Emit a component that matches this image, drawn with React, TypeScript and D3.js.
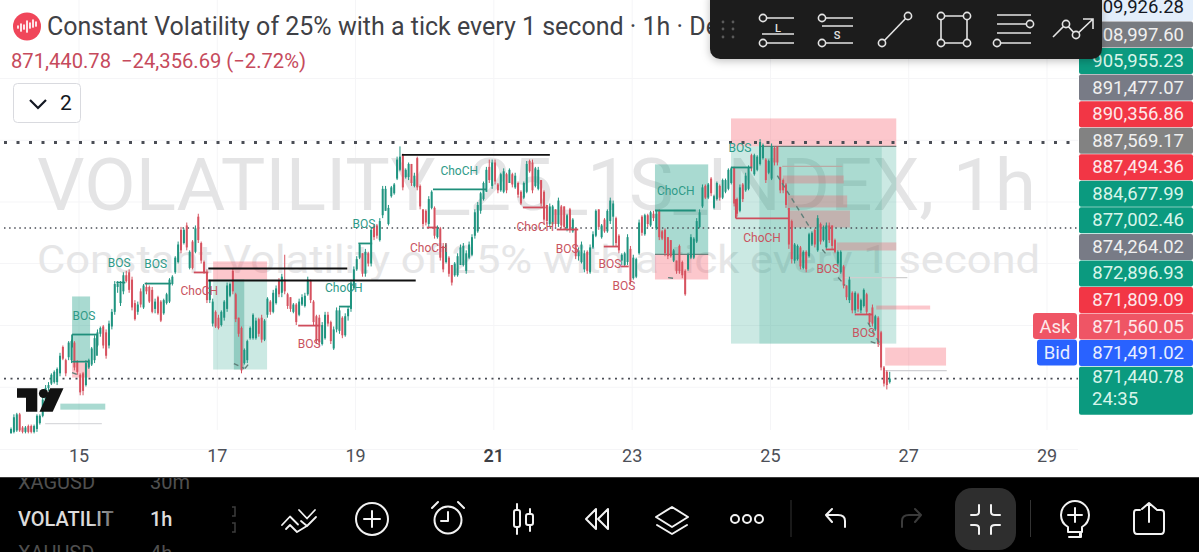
import React from "react";
import * as d3 from "d3";

// ---------- candle data: each row is [open, high, low, close] in thousands of price points ----------
const barsDay14: number[][] = [
  [867.7,868.1,867.7,868.0],[867.8,869.0,867.7,868.8],[867.9,869.1,867.8,869.0],[869.0,869.1,867.8,867.9],[868.1,868.2,867.7,867.8],
  [867.8,868.2,867.7,868.1],[868.2,868.3,867.7,867.8],[868.2,868.3,867.7,867.8],[867.8,868.3,867.7,868.2],[868.0,869.0,867.8,868.9],
  [868.4,869.0,868.3,868.9],[868.9,870.2,868.8,870.0],[870.0,871.0,869.9,870.8],[870.8,871.2,870.6,871.0],[871.1,871.8,871.0,871.7],
  [871.2,872.0,871.1,871.9],[871.2,872.2,871.0,872.1],[871.8,873.2,871.6,873.0],[873.6,873.7,872.7,872.8],[872.7,872.8,871.6,871.8],
  [872.9,874.0,872.7,873.9],[872.7,874.1,872.5,874.0],[873.9,874.0,872.0,872.2],[872.6,872.7,871.7,871.9],
];
const barsDay15: number[][] = [
  [871.7,871.8,870.3,870.5],[871.8,871.9,870.3,870.6],[871.0,872.7,870.9,872.5],[872.2,872.8,872.1,872.7],[872.4,873.6,872.3,873.5],
  [872.7,874.4,872.5,874.2],[873.7,874.8,873.6,874.6],[874.5,875.0,874.3,874.9],[875.0,875.1,873.5,873.7],[874.6,874.8,872.8,873.0],
  [873.7,875.4,873.5,875.2],[875.0,876.2,874.8,876.0],[876.0,878.1,875.8,877.9],[877.7,878.1,877.3,877.9],[876.6,878.1,876.4,877.9],
  [877.4,878.7,877.2,878.5],[878.5,878.8,878.0,878.1],[878.7,878.9,877.3,877.5],[878.2,878.4,876.1,876.3],[876.6,876.8,875.4,875.5],
  [876.0,876.7,875.8,876.5],[877.4,877.6,876.3,876.5],[876.3,877.9,876.2,877.8],[877.7,878.0,877.2,877.4],
];
const barsDay16: number[][] = [
  [877.7,877.8,876.6,876.7],[877.5,877.7,875.9,876.0],[876.2,876.9,875.9,876.7],[877.0,877.1,875.8,875.9],[876.7,876.8,875.3,875.4],
  [875.9,876.9,875.8,876.8],[876.6,877.3,876.5,877.2],[876.7,878.3,876.6,878.2],[877.9,878.5,877.8,878.4],[878.7,879.8,878.6,879.7],
  [879.4,880.8,879.3,880.6],[881.6,881.8,880.0,880.2],[880.7,881.7,880.6,881.6],[881.9,882.1,880.2,880.4],[879.0,880.2,878.9,880.1],
  [880.8,880.9,878.9,879.0],[880.1,881.9,880.0,881.7],[882.5,882.7,880.7,880.9],[880.7,880.8,879.3,879.5],[879.4,879.5,878.6,878.7],
  [878.7,878.9,876.6,876.8],[876.8,878.2,876.6,878.1],[875.2,876.9,875.0,876.7],[876.0,876.1,874.9,875.0],
];
const barsDay17: number[][] = [
  [875.6,875.8,874.8,874.9],[875.1,876.1,875.0,876.0],[875.6,876.8,875.4,876.7],[876.2,878.0,876.0,877.8],[877.1,878.0,877.0,877.9],
  [878.8,879.0,877.2,877.4],[877.2,877.3,875.3,875.5],[875.6,875.6,874.3,874.5],[874.9,875.0,871.8,872.0],[872.5,873.5,872.4,873.4],
  [872.7,874.1,872.5,874.0],[874.2,875.0,874.1,874.9],[874.2,875.9,874.1,875.8],[874.2,875.6,874.1,875.4],[875.5,875.6,874.3,874.5],
  [875.6,875.8,873.9,874.1],[874.1,875.5,874.0,875.4],[875.8,877.0,875.6,876.9],[876.7,876.8,875.8,876.0],[876.0,877.5,875.9,877.3],
  [876.6,877.8,876.5,877.6],[878.1,878.3,877.0,877.2],[877.3,878.6,877.0,878.4],[878.2,879.9,877.2,877.4],
];
const barsDay18: number[][] = [
  [877.2,877.3,876.2,876.4],[877.0,877.0,876.0,876.2],[876.0,876.6,875.9,876.5],[876.5,876.6,875.1,875.3],[875.8,876.9,875.7,876.7],
  [876.5,877.2,876.4,877.0],[876.4,877.3,876.3,877.1],[877.2,878.4,877.1,878.2],[878.1,878.2,876.6,876.8],[876.7,876.8,875.1,875.3],
  [875.7,875.8,873.8,874.0],[875.6,875.8,873.7,873.9],[873.8,875.3,873.7,875.1],[874.2,876.0,874.1,875.8],[875.8,876.0,875.0,875.2],
  [875.3,875.4,873.8,874.0],[873.5,875.0,873.4,874.8],[874.8,876.3,874.6,876.1],[874.7,876.3,874.5,876.1],[875.6,875.7,874.2,874.4],
  [874.4,875.9,874.3,875.7],[875.7,876.4,875.4,876.2],[876.2,878.2,876.0,878.0],[877.6,879.1,877.5,878.9],
];
const barsDay19: number[][] = [
  [878.9,879.8,878.8,879.6],[879.7,880.7,879.6,880.6],[880.0,880.0,878.4,878.6],[878.6,880.3,878.4,880.1],[880.0,880.1,879.1,879.3],
  [879.3,881.8,879.1,881.6],[881.9,882.0,880.9,881.1],[881.9,882.0,881.0,881.2],[880.9,882.4,880.8,882.2],[882.6,884.6,882.4,884.4],
  [882.9,884.6,882.9,884.4],[882.0,883.3,881.9,883.1],[883.9,884.6,883.8,884.5],[884.1,884.8,884.0,884.7],[885.1,886.6,885.0,886.4],
  [885.7,887.3,885.6,886.6],[886.7,886.8,884.3,884.5],[885.2,885.8,885.1,885.7],[885.2,886.2,885.0,886.1],[886.1,886.1,884.6,884.8],
  [884.6,885.5,884.5,885.3],[886.5,886.6,884.3,884.5],[884.6,884.7,883.0,883.2],[883.0,883.0,881.8,882.0],
];
const barsDay20: number[][] = [
  [882.9,883.0,881.9,882.1],[882.0,883.9,881.8,883.7],[883.1,884.3,883.0,884.2],[883.1,883.2,881.0,881.2],[881.1,881.9,881.0,881.8],
  [881.7,881.8,879.5,879.7],[880.5,880.7,878.7,878.9],[879.4,880.7,879.3,880.6],[879.7,879.8,878.4,878.6],[879.2,879.2,877.8,878.0],
  [878.5,879.4,878.4,879.3],[878.5,880.0,878.4,879.8],[879.2,880.6,879.2,880.4],[879.2,880.7,879.1,880.5],[878.8,880.2,878.6,880.0],
  [879.7,880.8,879.6,880.6],[879.9,881.3,879.8,881.1],[881.2,883.0,881.0,882.8],[881.5,883.5,881.4,883.3],[882.9,884.2,882.7,884.1],
  [883.7,884.9,883.6,884.8],[884.2,885.9,884.2,885.7],[885.9,886.4,884.8,885.0],[884.6,886.4,884.4,886.2],
];
const barsDay21: number[][] = [
  [886.2,886.4,884.7,884.9],[884.7,884.8,884.1,884.3],[884.3,885.5,884.2,885.4],[884.2,885.8,884.1,885.6],[885.4,885.5,884.1,884.3],
  [884.8,885.8,884.8,885.7],[885.4,885.5,884.5,884.7],[884.5,885.5,884.4,885.3],[884.8,884.9,883.8,884.0],[884.2,884.3,883.3,883.4],
  [883.8,884.9,883.7,884.8],[884.2,886.3,884.1,886.1],[886.3,886.4,885.5,885.6],[886.2,886.4,884.1,884.3],[884.6,885.9,884.5,885.8],
  [884.4,885.9,884.3,885.7],[885.0,885.0,883.2,883.4],[884.2,884.3,882.0,882.3],[883.3,883.3,882.0,882.2],[882.0,883.4,881.8,883.2],
  [882.0,883.3,881.9,883.2],[883.0,883.0,881.8,882.0],[882.0,883.8,881.8,883.6],[883.2,883.3,881.7,881.9],
];
const barsDay22: number[][] = [
  [883.2,883.2,881.6,881.8],[881.7,882.7,881.5,882.6],[883.0,883.1,881.4,881.6],[881.5,882.4,881.4,882.3],[881.7,881.7,879.6,879.8],
  [879.8,880.4,879.5,880.2],[879.4,880.8,879.3,880.6],[878.9,880.2,878.7,880.0],[880.1,880.2,878.6,878.8],[878.7,880.6,878.6,880.4],
  [880.4,881.5,880.3,881.3],[881.2,883.0,881.1,882.9],[883.0,883.0,881.6,881.8],[881.1,882.0,881.0,881.9],[882.3,882.4,881.4,881.5],
  [881.5,883.0,881.4,882.9],[882.2,883.8,882.0,883.6],[882.5,883.6,880.5,883.4],[882.4,882.5,880.5,880.7],[881.2,881.3,880.0,880.2],
  [879.5,880.0,879.2,879.9],[879.2,880.1,879.1,880.0],[879.4,881.3,879.2,881.1],[880.3,880.5,877.9,878.1],
];
const barsDay23: number[][] = [
  [878.3,879.9,878.2,879.7],[878.4,879.7,878.3,879.6],[880.0,882.3,879.9,882.1],[882.5,882.6,881.2,881.4],[881.3,882.7,881.2,882.6],
  [882.6,882.7,881.8,882.0],[881.9,882.9,881.8,882.8],[882.7,882.9,882.2,882.4],[881.7,882.9,881.6,882.7],[882.9,883.0,880.9,881.1],
  [881.5,881.6,880.9,881.0],[881.6,881.7,879.8,880.0],[881.1,881.1,879.6,879.8],[880.9,880.9,879.7,879.8],[879.5,880.3,879.4,880.2],
  [879.5,879.5,878.6,878.8],[880.5,880.6,878.6,878.8],[879.4,879.5,878.3,878.5],[878.8,878.9,877.1,877.2],[878.9,880.0,878.8,879.9],
  [879.7,881.3,879.6,881.1],[879.7,881.1,879.6,881.0],[880.8,882.4,880.7,882.2],[881.8,883.0,881.7,882.8],
];
const barsDay24: number[][] = [
  [883.2,884.7,883.1,884.5],[884.6,884.7,883.7,883.8],[883.8,884.8,883.7,884.7],[885.1,885.2,883.9,884.1],[883.1,884.0,883.0,883.9],
  [883.7,884.9,883.6,884.8],[884.6,884.7,883.6,883.8],[883.8,885.1,883.7,885.0],[884.2,885.1,884.1,885.0],[884.4,885.8,884.3,885.7],
  [884.8,885.9,884.7,885.8],[885.9,885.9,883.2,883.4],[883.7,883.8,882.5,882.7],[882.9,884.7,882.8,884.5],[884.7,884.8,883.5,883.7],
  [884.3,885.5,884.2,885.3],[884.4,886.0,884.3,885.9],[886.7,886.8,885.6,885.8],[885.4,886.8,885.3,886.7],[885.7,886.7,885.6,886.6],
  [886.1,887.8,886.0,887.6],[886.5,887.5,886.4,887.4],[886.4,886.5,884.8,885.0],[885.5,886.4,885.4,886.3],
];
const barsDay25: number[][] = [
  [885.1,887.5,885.0,887.3],[887.2,887.3,886.0,886.2],[887.3,887.3,886.0,886.2],[885.9,885.9,884.1,884.3],[885.0,885.1,884.1,884.3],
  [884.7,884.8,883.1,883.3],[883.1,883.1,880.3,880.6],[882.2,882.3,879.3,879.6],[879.5,880.7,879.3,880.6],[879.6,880.6,879.5,880.5],
  [880.4,880.5,878.9,879.1],[879.0,880.2,878.9,880.1],[880.1,880.2,878.7,878.9],[879.8,881.4,879.7,881.3],[880.6,881.5,880.5,881.4],
  [881.6,881.7,880.4,880.6],[880.2,882.6,880.1,882.4],[882.0,882.1,880.6,880.8],[880.9,881.9,880.8,881.8],[880.4,882.1,880.3,881.9],
  [881.9,882.1,880.7,880.9],[881.9,881.9,880.3,880.5],[880.9,881.0,880.0,880.1],[879.3,880.2,879.2,880.1],
];
const barsDay26: number[][] = [
  [878.7,880.2,878.6,880.1],[879.1,879.2,877.6,877.8],[877.8,877.8,876.8,877.0],[876.8,878.4,876.6,878.2],[877.3,877.4,875.9,876.1],
  [876.1,877.4,875.9,877.3],[877.2,877.3,876.0,876.2],[876.1,876.9,875.9,876.8],[876.4,877.6,876.3,877.5],[877.2,877.3,875.8,876.0],
  [875.9,875.9,875.1,875.3],[876.3,876.5,875.0,875.2],[874.8,875.8,874.7,875.7],[875.6,875.7,873.6,873.8],[874.6,874.7,872.0,872.2],
  [872.2,872.3,870.9,871.1],[871.9,872.0,870.7,871.0],[871.2,871.9,871.1,871.44],
];
const allBars = [barsDay14,barsDay15,barsDay16,barsDay17,barsDay18,barsDay19,barsDay20,barsDay21,barsDay22,barsDay23,barsDay24,barsDay25,barsDay26].flat();

// ---------- axes and labels ----------
const dayTicks = [15, 17, 19, 21, 23, 25, 27, 29];
const gridDays = [15, 17, 19, 21, 23, 25, 27, 29];
const gridPrices = [891.94, 887.72, 883.5, 879.3, 875.07, 870.85, 866.6];
const priceRows: [string, string, string][] = [
  ["908,997.60", "#787b80", "#f0f0f0"],
  ["905,955.23", "#0b9a7f", "#d8f5ea"],
  ["891,477.07", "#787b86", "#f0f0f0"],
  ["890,356.86", "#f23645", "#fde8ea"],
  ["887,569.17", "#828282", "#f0f0f0"],
  ["887,494.36", "#f23645", "#fde8ea"],
  ["884,677.99", "#0b9a7f", "#d8f5ea"],
  ["877,002.46", "#0b9a7f", "#d8f5ea"],
  ["874,264.02", "#787b86", "#f0f0f0"],
  ["872,896.93", "#0b9a7f", "#d8f5ea"],
  ["871,809.09", "#f23645", "#fde8ea"],
  ["871,560.05", "#ef5565", "#fde8ea"],
  ["871,491.02", "#2962ff", "#e8eeff"],
];
// ---------- drawing objects on the chart, in [day, price] space ----------
type Zone = [number, number, number, number, string];
const zones: Zone[] = [
  [14.90,15.16,877.05,872.67,"teal"],[14.90,15.16,872.67,871.51,"pink"],[14.73,15.38,869.73,869.32,"teal"],
  [16.94,17.72,879.44,878.21,"pink"],[16.94,17.72,878.21,872.06,"light"],[17.24,17.39,878.21,872.06,"dark"],
  [23.33,24.10,886.07,879.92,"teal"],[23.33,24.10,879.92,878.21,"pink"],
  [24.43,26.82,889.21,887.30,"pink"],[24.43,26.82,887.30,873.83,"light"],[24.84,26.61,887.30,873.83,"deep"],
  [25.18,26.06,885.31,884.77,"rose"],[25.25,26.11,883.95,883.13,"rose"],[25.28,26.15,882.92,881.76,"rose"],[25.96,26.82,880.74,880.19,"rose"],
  [26.53,27.31,876.43,876.16,"pink"],[26.66,27.54,873.56,872.33,"pink"],
];
const thinLines: [number, number, number, string][] = [
  [14.51,15.33,868.37,"#d9dadd"],[25.17,26.04,885.93,"#b9a9a4"],[26.05,26.98,878.34,"#cfcfcf"],[26.66,27.55,871.99,"#d0d0d4"],
  [23.33,24.10,879.92,"#6f807c"],[24.84,26.82,887.30,"#6f807c"],
];
const blackLines: [number, number, number][] = [[16.87,18.88,878.96],[16.87,19.87,878.14],[19.67,21.81,886.72]];
const bullStructure: [number, number, number][] = [
  [14.90,15.26,874.45],[14.90,15.13,872.60],[15.54,15.67,878.00],[15.95,16.33,877.93],[18.76,18.92,876.36],
  [19.04,19.24,880.67],[20.12,20.89,884.36],[23.33,23.92,882.92],[24.43,24.73,885.86],
];
const bearStructure: [number, number, number][] = [
  [16.66,16.87,878.69],[18.17,18.49,875.06],[20.03,20.18,881.76],[21.42,21.75,883.13],[21.91,22.22,881.62],
  [22.59,22.80,880.46],[22.84,22.95,879.10],[24.50,25.27,882.38],[25.80,25.93,880.26],[26.22,26.48,875.82],
];
const structureLegs: [number, number, number, string][] = [
  [14.90,874.45,873.56,"bull"],[15.26,874.45,873.0,"bull"],[24.50,883.7,882.38,"bear"],
];
const structureLabels: [string, number, number, string][] = [
  ["BOS",15.07,875.75,"bull"],["BOS",15.58,879.37,"bull"],["BOS",16.11,879.30,"bull"],["ChoCH",16.74,877.46,"bear"],
  ["BOS",18.33,873.83,"bear"],["ChoCH",18.83,877.66,"bull"],["BOS",19.12,882.03,"bull"],["ChoCH",20.50,885.66,"bull"],
  ["ChoCH",20.06,880.39,"bear"],["ChoCH",21.60,881.83,"bear"],["BOS",22.06,880.33,"bear"],["BOS",22.68,879.30,"bear"],
  ["BOS",22.88,877.80,"bear"],["ChoCH",23.63,884.29,"bull"],["BOS",24.56,887.23,"bull"],["ChoCH",24.88,881.08,"bear"],
  ["BOS",25.83,878.96,"bear"],["BOS",26.35,874.59,"bear"],
];
const dashSegments: [number, number, number, number][] = [
  [25.10,885.31,25.57,881.76],[25.75,880.26,25.82,879.85],[25.98,878.34,26.08,877.8],[26.41,875.27,26.58,873.83],
  [26.45,873.97,26.58,873.76],[14.90,871.85,15.01,871.65],[17.24,872.47,17.39,872.13],[17.40,872.13,17.47,872.54],[23.52,878.34,23.62,878.27],
];
const dottedLevels: [number, string, number][] = [[887.57,"3 9.5",3],[881.73,"1.5 3.6",1.5],[871.44,"2 4.5",1.6]];

const firstBarDay = 14.017;
const barsPerDay = 24;
const green = "#1f9480";
const red = "#d6525f";
const zoneStyle: Record<string, [string, number]> = {
  teal: ["#12997f", 0.36], light: ["#12997f", 0.22], deep: ["#12997f", 0.17], dark: ["#0f8a74", 0.3],
  pink: ["#f7525f", 0.32], rose: ["#f7525f", 0.3],
};
const font = "Roboto, sans-serif";

const x = d3.scaleLinear().domain([15, 29]).range([79, 1047]);
const y = d3.scaleLinear().domain([887.6, 870.2]).range([142, 396.76]);

function Candles() {
  return (
    <g>
      {allBars.map(([o, h, l, c], i) => {
        const cx = x(firstBarDay + i / barsPerDay);
        const col = c >= o ? green : red;
        const top = y(Math.max(o, c));
        const bot = y(Math.min(o, c));
        return (
          <g key={i}>
            <line x1={cx} x2={cx} y1={y(h)} y2={y(l)} stroke={col} strokeWidth={1} />
            <rect x={cx - 1} width={2} y={top} height={Math.max(1, bot - top)} fill={col} />
          </g>
        );
      })}
    </g>
  );
}

const ic = { fill: "none", stroke: "#e4e4e4", strokeWidth: 1.6 };
const Dot = ({ cx, cy }: { cx: number; cy: number }) => <circle cx={cx} cy={cy} r={3.6} {...ic} fill="#1e1e1e" />;

function Toolbar() {
  return (
    <g>
      <rect x={710} y={-12} width={392} height={71} rx={10} fill="#1e1e1e" filter="url(#tbShadow)" />
      {[723, 733].map((gx) => [22, 29, 37].map((gy) => <circle key={gx + "-" + gy} cx={gx} cy={gy} r={1.4} fill="#5a5a5a" />))}
      <path d="M767 18H794M762 34H794M767 43H794" {...ic} /><Dot cx={763} cy={18} /><Dot cx={763} cy={43} />
      <text x={778} y={32} textAnchor="middle" fontFamily={font} fontSize={11} fontWeight={500} fill="#e4e4e4">L</text>
      <path d="M826 18H853M822 26H853M826 43H853" {...ic} /><Dot cx={822} cy={18} /><Dot cx={822} cy={43} />
      <text x={837} y={39} textAnchor="middle" fontFamily={font} fontSize={11} fontWeight={500} fill="#e4e4e4">S</text>
      <path d="M882 43L908 16" {...ic} /><Dot cx={882} cy={43} /><Dot cx={908} cy={16} />
      <path d="M941 16H967V43H941Z" {...ic} />
      <Dot cx={941} cy={16} /><Dot cx={967} cy={16} /><Dot cx={941} cy={43} /><Dot cx={967} cy={43} />
      <path d="M997 15H1031M997 24H1026M997 33H1031M1001 43H1031" {...ic} /><Dot cx={1030} cy={24} /><Dot cx={997} cy={43} />
      <path d="M1053 37L1066 24L1076 35L1093 19M1083 19H1093V29" {...ic} /><Dot cx={1066} cy={24} /><Dot cx={1076} cy={35} />
    </g>
  );
}

function BottomBar() {
  const s = { fill: "none", stroke: "#f2f2f2", strokeWidth: 2, strokeLinecap: "round" as const, strokeLinejoin: "round" as const };
  return (
    <g>
      <rect x={0} y={477} width={1199} height={75} fill="#000" />
      <line x1={0} x2={1199} y1={477.5} y2={477.5} stroke="#3a3a3a" />
      <g clipPath="url(#barClip)" fontFamily={font} fontSize={20}>
        <text x={18} y={489} fill="#4f4f4f">XAGUSD</text>
        <text x={150} y={489} fill="#4f4f4f">30m</text>
        <text x={18} y={560} fill="#4f4f4f">XAUUSD</text>
        <text x={150} y={560} fill="#4f4f4f">4h</text>
      </g>
      <text x={18} y={526} fontFamily={font} fontSize={20} fontWeight={500} fill="url(#fadeText)">VOLATILIT</text>
      <text x={150} y={526} fontFamily={font} fontSize={20} fontWeight={500} fill="#dcdcdc">1h</text>
      <path d="M232 507H235V516H232M232 523H235V532H232" fill="none" stroke="#3d3d3d" strokeWidth={1.5} />
      {/* trading panel */}
      <path d="M282 525L290 516.5L298 524.5M299 510L307 518.5L315 510M286 529L290 525L297 532L306 526.5M301 521L307 526L316 517" {...s} strokeWidth={1.8} />
      {/* add */}
      <circle cx={372} cy={519} r={16} {...s} /><path d="M372 511V527M364 519H380" {...s} />
      {/* alarm */}
      <circle cx={448} cy={520} r={13.5} {...s} /><path d="M448 512V521H441M432 508L438 502M464 508L458 502" {...s} />
      {/* candles */}
      <rect x={514} y={510} width={6} height={17} rx={2} {...s} /><path d="M517 504V510M517 527V534M530 509V514M530 525V531" {...s} /><rect x={526} y={514} width={7} height={11} rx={2} {...s} />
      {/* rewind */}
      <path d="M596 509L586 519L596 529ZM608 509L598 519L608 529Z" {...s} />
      {/* layers */}
      <path d="M672 507L688 517L672 527L656 517Z" {...s} /><path d="M657 525L672 534L687 525" {...s} />
      {/* more */}
      <circle cx={735} cy={519} r={4} {...s} /><circle cx={747} cy={519} r={4} {...s} /><circle cx={759} cy={519} r={4} {...s} />
      <line x1={791} x2={791} y1={500} y2={537} stroke="#333" />
      {/* undo and redo */}
      <path d="M845 527V521Q845 515 838 515H826M832 509L826 515L832 522" {...s} />
      <path d="M902 527V521Q902 515 909 515H921M915 509L921 515L915 522" {...s} stroke="#3b3b3b" />
      {/* selected */}
      <rect x={955} y={488} width={61} height={62} rx={17} fill="#2e2e2e" />
      <path d="M979 505V512Q979 515 975 515H971M991 505V512Q991 515 995 515H1000M971 525H975Q979 525 979 528V534M1000 525H995Q991 525 991 528V534" {...s} />
      <line x1={1030.5} x2={1030.5} y1={500} y2={537} stroke="#333" />
      {/* bulb */}
      <path d="M1068 532V527Q1061 523 1061 515A14 14 0 0 1 1089 515Q1089 523 1082 527V532ZM1070 537H1080V533" {...s} /><path d="M1069 537H1081V532M1075 508V522M1068 515H1082" {...s} />
      {/* share */}
      <path d="M1140 510H1136Q1134 510 1134 513V530Q1134 534 1137 534H1161Q1164 534 1164 530V513Q1164 510 1161 510H1157M1149 522V503M1142 509L1149 503L1156 509" {...s} />
    </g>
  );
}

export default function App() {
  const last = priceRows.length;
  return (
    <svg width={1199} height={552} viewBox="0 0 1199 552" style={{ position: "absolute", left: 0, top: 0, background: "#fff" }}>
      <defs>
        <filter id="tbShadow" x="-5%" y="-20%" width="110%" height="150%">
          <feDropShadow dx={0} dy={2} stdDeviation={4} floodColor="#000" floodOpacity={0.25} />
        </filter>
        <clipPath id="barClip"><rect x={0} y={478} width={300} height={74} /></clipPath>
        <linearGradient id="fadeText" x1="0" x2="1" y1="0" y2="0">
          <stop offset="0.75" stopColor="#dcdcdc" /><stop offset="1" stopColor="#666" />
        </linearGradient>
      </defs>

      {/* grid */}
      {gridDays.map((d) => <line key={d} x1={x(d)} x2={x(d)} y1={0} y2={430} stroke="#f5f5f7" />)}
      {gridPrices.map((p) => <line key={p} x1={0} x2={1078} y1={y(p)} y2={y(p)} stroke="#f5f5f7" />)}

      {/* watermark */}
      <text x={37} y={210} fontFamily={font} fontSize={73} fill="#e4e4e5" textLength={999} lengthAdjust="spacingAndGlyphs">VOLATILITY_25_1S_INDEX, 1h</text>
      <text x={37} y={273} fontFamily={font} fontSize={39} fill="#e6e6e7" textLength={1003} lengthAdjust="spacingAndGlyphs">Constant Volatility of 25% with a tick every 1 second</text>

      {/* zones */}
      {zones.map(([d0, d1, p0, p1, k], i) => (
        <rect key={i} x={x(d0)} width={x(d1) - x(d0)} y={y(p0)} height={y(p1) - y(p0)} fill={zoneStyle[k][0]} fillOpacity={zoneStyle[k][1]} />
      ))}
      {thinLines.map(([d0, d1, p, c], i) => <line key={i} x1={x(d0)} x2={x(d1)} y1={y(p)} y2={y(p)} stroke={c} strokeWidth={1.2} />)}

      {/* current and session levels */}
      {dottedLevels.map(([p, dash, w]) => <line key={p} x1={4} x2={1078} y1={y(p)} y2={y(p)} stroke="#4a4d55" strokeWidth={w} strokeDasharray={dash} />)}

      <Candles />

      {/* market structure */}
      {bullStructure.map(([d0, d1, p], i) => <line key={i} x1={x(d0)} x2={x(d1)} y1={y(p)} y2={y(p)} stroke="#1f8f7b" strokeWidth={1.8} />)}
      {bearStructure.map(([d0, d1, p], i) => <line key={i} x1={x(d0)} x2={x(d1)} y1={y(p)} y2={y(p)} stroke="#cf4d5c" strokeWidth={1.8} />)}
      {structureLegs.map(([d, p0, p1, k], i) => <line key={i} x1={x(d)} x2={x(d)} y1={y(p0)} y2={y(p1)} stroke={k === "bull" ? "#1f8f7b" : "#cf4d5c"} strokeWidth={1.8} />)}
      {dashSegments.map(([d0, p0, d1, p1], i) => <line key={i} x1={x(d0)} y1={y(p0)} x2={x(d1)} y2={y(p1)} stroke="#5f7f79" strokeWidth={1.4} strokeDasharray="5 4" />)}
      {blackLines.map(([d0, d1, p], i) => <line key={i} x1={x(d0)} x2={x(d1)} y1={y(p)} y2={y(p)} stroke="#111" strokeWidth={1.8} />)}
      {structureLabels.map(([t, d, p, k], i) => (
        <text key={i} x={x(d)} y={y(p)} dy="0.35em" textAnchor="middle" fontFamily={font} fontSize={12} fill={k === "bull" ? "#2f9a88" : "#c9545f"}>{t}</text>
      ))}

      {/* TradingView logo */}
      <path d="M17 388.3H37.3V411.7H26V397.7H17Z" fill="#111" />
      <circle cx={43.5} cy={393.5} r={4.6} fill="#111" />
      <path d="M63.5 388.3L52.7 411.7H39.5L50 388.3Z" fill="#111" />

      {/* header */}
      <circle cx={27} cy={26.5} r={14} fill="#f0465a" />
      <path d="M18 26V28M21 24V31M24 25V29M27 21V32M30 23V28M33 20V27M36 22V26" stroke="#fff" strokeWidth={1.7} strokeLinecap="round" />
      <text x={47} y={35} fontFamily={font} fontSize={25} fill="#3f4146">Constant Volatility of 25% with a tick every 1 second · 1h · Deriv</text>
      <text x={11} y={68} fontFamily={font} fontSize={20.2} fill="#c64a5c" xmlSpace="preserve">871,440.78  −24,356.69 (−2.72%)</text>
      <rect x={13.5} y={83.5} width={67} height={39} rx={4} fill="#fff" stroke="#d9dadf" />
      <path d="M30 100L38 108L46 100" fill="none" stroke="#131722" strokeWidth={2.2} />
      <text x={66} y={110} textAnchor="middle" fontFamily={font} fontSize={21} fill="#131722">2</text>

      {/* price axis */}
      <rect x={1079} y={-2} width={114} height={23} rx={2} fill="#e3eefb" />
      <text x={1184} y={13} textAnchor="end" fontFamily={font} fontSize={18.5} fill="#131722">909,926.28</text>
      {priceRows.map(([t, bg, fg], i) => (
        <g key={t}>
          <rect x={1079} y={21.5 + i * 26.55} width={114} height={26} rx={2} fill={bg} />
          <text x={1184} y={40.5 + i * 26.55} textAnchor="end" fontFamily={font} fontSize={18.5} fill={fg}>{t}</text>
        </g>
      ))}
      <rect x={1079} y={21.5 + last * 26.55} width={114} height={48} rx={2} fill="#0b9a7f" />
      <text x={1184} y={383} textAnchor="end" fontFamily={font} fontSize={18.5} fill="#d8f5ea">871,440.78</text>
      <text x={1092} y={405} fontFamily={font} fontSize={18.5} fill="#d8f5ea">24:35</text>
      <rect x={1033} y={313} width={44} height={26} rx={3} fill="#ef5565" />
      <text x={1055} y={333} textAnchor="middle" fontFamily={font} fontSize={18.5} fill="#fde8ea">Ask</text>
      <rect x={1037} y={339.5} width={40} height={26} rx={3} fill="#2962ff" />
      <text x={1057} y={359} textAnchor="middle" fontFamily={font} fontSize={18.5} fill="#e8eeff">Bid</text>

      {/* time axis */}
      {dayTicks.map((d) => (
        <text key={d} x={x(d)} y={462} textAnchor="middle" fontFamily={font} fontSize={18} fontWeight={d === 21 ? 600 : 400} fill={d === 21 ? "#3d3f45" : "#4d5058"}>{d}</text>
      ))}

      <Toolbar />
      <BottomBar />
    </svg>
  );
}
